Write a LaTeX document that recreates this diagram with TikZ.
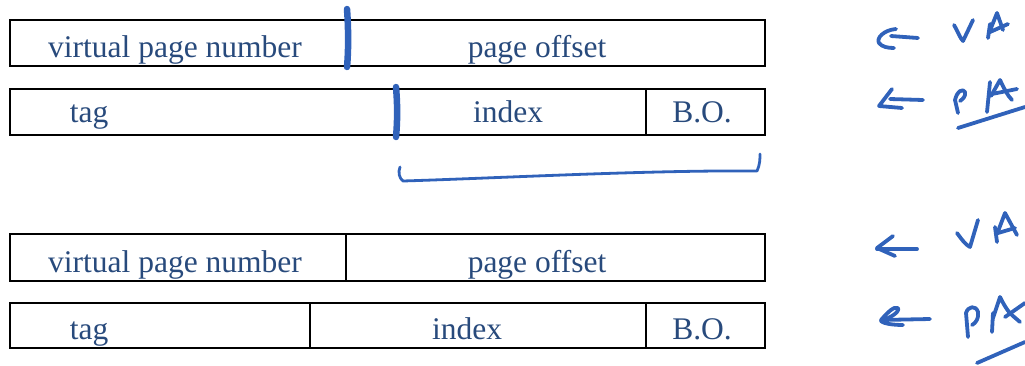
\documentclass[tikz,border=0pt]{standalone}
\usepackage{fontspec}
\setmainfont{Liberation Serif}
\definecolor{txtblue}{RGB}{40,74,124}
\definecolor{ink}{RGB}{48,98,186}
\tikzset{
  field/.style={draw=black, line width=1.8pt},
  lbl/.style={anchor=base, text=txtblue, inner sep=0pt, font=\fontsize{31.5}{31.5}\selectfont},
  pen/.style={draw=ink, line width=3.8pt, line cap=round, line join=round},
  tick/.style={draw=ink, line width=6.5pt, line cap=round},
}
\begin{document}
\begin{tikzpicture}[x=1pt,y=-1pt]
\useasboundingbox (0,0) rectangle (1025,365);

% ---- upper pair of address layouts ----
\draw[field] (10,20) rectangle (765,66);
\draw[field] (10,89) rectangle (765,135);
\draw[field] (646,89) -- (646,135);

\node[lbl] (vpn1) at (175,57) {virtual page number};
\node[lbl] (po1) at (537,57) {page offset};
\node[lbl] (tag1) at (89,122) {tag};
\node[lbl] (idx1) at (508,122) {index};
\node[lbl] (bo1) at (702,122) {B.O.};

% pen marks on the upper pair
\draw[tick] (347,9) .. controls (348.5,30) and (348.5,50) .. (347,67);
\draw[tick] (396,87) .. controls (397.5,105) and (397.5,120) .. (396,137);
\draw[pen, line width=2.8pt] (400,167) .. controls (398,172) and (399,178) .. (403,181)
  .. controls (500,178) and (650,170) .. (757,171) .. controls (760,165) and (760,158) .. (760,154);

% ---- lower pair of address layouts ----
\draw[field] (10,234) rectangle (765,281);
\draw[field] (346,234) -- (346,281);
\draw[field] (10,303) rectangle (765,348);
\draw[field] (310,303) -- (310,348);
\draw[field] (646,303) -- (646,348);

\node[lbl] (vpn2) at (175,272) {virtual page number};
\node[lbl] (po2) at (537,272) {page offset};
\node[lbl] (tag2) at (89,339) {tag};
\node[lbl] (idx2) at (467,339) {index};
\node[lbl] (bo2) at (702,339) {B.O.};

% ---- handwritten notes: upper ----
% arrow to VA
\draw[pen] (918,38) -- (891,36);
\draw[pen] (896,29) .. controls (884,30) and (876,38) .. (879,43) .. controls (882,47) and (888,48) .. (894,48);
% VA
\draw[pen] (954,25) .. controls (958,32) and (960,38) .. (963,41) -- (973,20);
\draw[pen] (988,38) -- (990,24);
\draw[pen] (989,33) -- (997,13) -- (1003,30);
\draw[pen] (990,32) -- (1008,24);
% arrow to PA
\draw[pen] (890,99) -- (923,100);
\draw[pen] (892,89) -- (879,106) -- (902,108);
% PA
\draw[pen] (958,113) -- (955,100) .. controls (957,91) and (963,88) .. (965,92) .. controls (966,96) and (963,99) .. (960,101);
\draw[pen] (987,112) -- (990,82);
\draw[pen] (991,96) -- (1000,80) .. controls (1004,88) and (1007,95) .. (1012,100);
\draw[pen] (992,94) -- (1017,89);
\draw[pen] (958,128) -- (1025,107);

% ---- handwritten notes: lower ----
% arrow to VA
\draw[pen] (877,249) -- (917,249);
\draw[pen] (893,236) -- (877,248) -- (895,256);
% VA
\draw[pen] (957,233) .. controls (962,240) and (966,245) .. (970,247) -- (978,220);
\draw[pen] (997,242) -- (995,227);
\draw[pen] (997,234) -- (1005,213) -- (1017,235);
\draw[pen] (998,233) -- (1015,228);
% arrow to PA
\draw[pen] (881,320) -- (930,319);
\draw[pen] (881,320) .. controls (888,312) and (894,306) .. (898,308) .. controls (900,312) and (890,318) .. (881,321) .. controls (884,324) and (895,325) .. (903,325);
% PA
\draw[pen] (968,337) -- (966,313) .. controls (968,306) and (976,305) .. (978,312) .. controls (979,318) and (976,323) .. (972,325);
\draw[pen] (992,332) -- (993,313);
\draw[pen] (993,318) -- (1000,297) .. controls (1004,305) and (1008,312) .. (1013,316) -- (1020,322);
\draw[pen] (1005,317) -- (1025,303);
\draw[pen] (977,363) -- (1025,342);
\end{tikzpicture}
\end{document}
